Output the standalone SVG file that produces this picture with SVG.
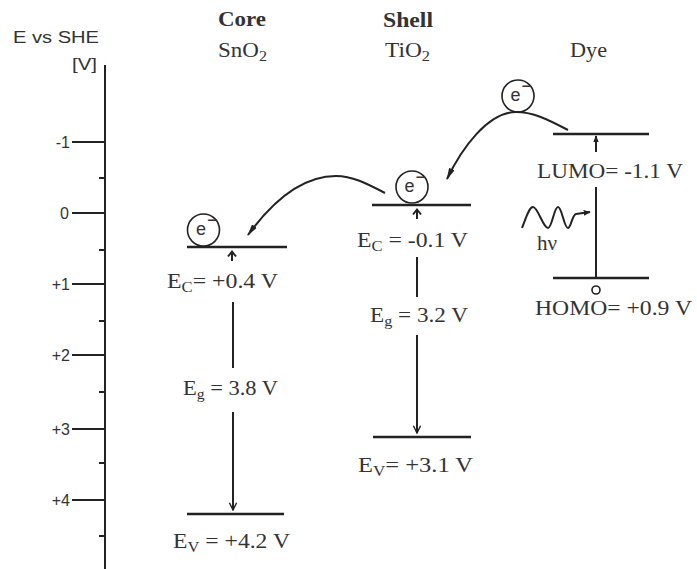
<svg xmlns="http://www.w3.org/2000/svg" width="697" height="569" viewBox="0 0 697 569">
<style>
.serif{font-family:"Liberation Serif","Times New Roman",serif;font-size:20px;fill:#333}
.bold{font-weight:bold}
.sans{font-family:"Liberation Sans",Arial,sans-serif;font-size:16px;fill:#333}
.lvl{stroke:#222;stroke-width:2.5;fill:none}
.ln{stroke:#222;stroke-width:2;fill:none}
.up{stroke:#222;stroke-width:2;fill:none;stroke-linejoin:miter}
.circ{stroke:#222;stroke-width:1.6;fill:#fff}
.el{font-family:"Liberation Sans",Arial,sans-serif;font-size:18px;fill:#333}
</style>
<defs>
<marker id="chevBig" viewBox="0 0 10 10" refX="9" refY="5" markerWidth="9" markerHeight="12" orient="auto" markerUnits="userSpaceOnUse">
<path d="M1,1 L9,5 L1,9" fill="none" stroke="#222" stroke-width="1.6"/>
</marker>
<marker id="fill" viewBox="0 0 12 6" refX="11" refY="3" markerWidth="12" markerHeight="6" orient="auto" markerUnits="userSpaceOnUse">
<path d="M0,0 L12,3 L0,6 Z" fill="#222"/>
</marker>
<marker id="small" viewBox="0 0 10 8" refX="9" refY="4" markerWidth="7" markerHeight="6" orient="auto" markerUnits="userSpaceOnUse">
<path d="M0,0 L10,4 L0,8 Z" fill="#222"/>
</marker>
</defs>

<g id="axis">
<text class="sans" x="13" y="43" textLength="86" lengthAdjust="spacingAndGlyphs">E vs SHE</text>
<text class="sans" x="72" y="70" textLength="25" lengthAdjust="spacingAndGlyphs">[V]</text>
<line class="ln" x1="105" y1="65" x2="105" y2="569"/>
<g class="ln">
<line x1="72" y1="142" x2="105" y2="142"/>
<line x1="72" y1="213" x2="105" y2="213"/>
<line x1="72" y1="284" x2="105" y2="284"/>
<line x1="72" y1="355" x2="105" y2="355"/>
<line x1="72" y1="429" x2="105" y2="429"/>
<line x1="72" y1="500" x2="105" y2="500"/>
<line x1="99" y1="178" x2="105" y2="178"/>
<line x1="99" y1="250" x2="105" y2="250"/>
<line x1="99" y1="321" x2="105" y2="321"/>
<line x1="99" y1="392" x2="105" y2="392"/>
<line x1="99" y1="463" x2="105" y2="463"/>
<line x1="99" y1="536" x2="105" y2="536"/>
</g>
<g class="sans" text-anchor="end">
<text x="70" y="148">-1</text>
<text x="69" y="219">0</text>
<text x="70" y="290">+1</text>
<text x="70" y="361">+2</text>
<text x="70" y="435">+3</text>
<text x="70" y="506">+4</text>
</g>
</g>

<g id="core">
<text class="serif bold" x="218" y="26" textLength="48" lengthAdjust="spacingAndGlyphs">Core</text>
<text class="serif" x="218" y="57" textLength="49" lengthAdjust="spacingAndGlyphs">SnO<tspan font-size="14" dy="4">2</tspan></text>
<line class="lvl" x1="187" y1="247" x2="287" y2="247"/>
<circle class="circ" cx="203.5" cy="230" r="16"/>
<text class="el" x="196" y="235">e</text>
<text class="el" font-size="11" x="207" y="226">−</text>
<path class="up" d="M232,261 V252 M228,256.5 L232,251.5 L236,256.5"/>
<text class="serif" x="167" y="288" textLength="111" lengthAdjust="spacingAndGlyphs">E<tspan font-size="14" dy="4">C</tspan><tspan dy="-4">= +0.4 V</tspan></text>
<line class="ln" x1="233" y1="302" x2="233" y2="368"/>
<text class="serif" x="183" y="395" textLength="95" lengthAdjust="spacingAndGlyphs">E<tspan font-size="14" dy="4">g</tspan><tspan dy="-4"> = 3.8 V</tspan></text>
<line class="ln" x1="233" y1="412" x2="233" y2="510" marker-end="url(#chevBig)"/>
<line class="lvl" x1="187" y1="514" x2="284" y2="514"/>
<text class="serif" x="173" y="548" textLength="117" lengthAdjust="spacingAndGlyphs">E<tspan font-size="14" dy="4">V</tspan><tspan dy="-4"> = +4.2 V</tspan></text>
</g>

<g id="shell">
<text class="serif bold" x="383" y="27" textLength="50" lengthAdjust="spacingAndGlyphs">Shell</text>
<text class="serif" x="385" y="57" textLength="45" lengthAdjust="spacingAndGlyphs">TiO<tspan font-size="14" dy="4">2</tspan></text>
<line class="lvl" x1="372" y1="205" x2="471" y2="205"/>
<circle class="circ" cx="412" cy="187" r="16"/>
<text class="el" x="404.5" y="192">e</text>
<text class="el" font-size="11" x="415.5" y="183">−</text>
<path class="up" d="M417,219 V210 M413,214.5 L417,209.5 L421,214.5"/>
<text class="serif" x="357" y="247" textLength="111" lengthAdjust="spacingAndGlyphs">E<tspan font-size="14" dy="4">C</tspan><tspan dy="-4"> = -0.1 V</tspan></text>
<line class="ln" x1="417" y1="257" x2="417" y2="297"/>
<text class="serif" x="370" y="322" textLength="98" lengthAdjust="spacingAndGlyphs">E<tspan font-size="14" dy="4">g</tspan><tspan dy="-4"> = 3.2 V</tspan></text>
<line class="ln" x1="417" y1="335" x2="417" y2="433" marker-end="url(#chevBig)"/>
<line class="lvl" x1="373" y1="437" x2="471" y2="437"/>
<text class="serif" x="358" y="472" textLength="115" lengthAdjust="spacingAndGlyphs">E<tspan font-size="14" dy="4">V</tspan><tspan dy="-4">= +3.1 V</tspan></text>
</g>

<g id="dye">
<text class="serif" x="570" y="57" textLength="37" lengthAdjust="spacingAndGlyphs">Dye</text>
<line class="lvl" x1="553" y1="134" x2="649" y2="134"/>
<line class="ln" stroke-width="1.5" x1="596" y1="152" x2="596" y2="136" marker-end="url(#small)"/>
<text class="serif" x="537" y="178" textLength="146" lengthAdjust="spacingAndGlyphs">LUMO= -1.1 V</text>
<line class="ln" x1="596" y1="187" x2="596" y2="278"/>
<path class="ln" stroke-width="1.6" d="M522,228 C526,218 529,207 533,207 C538,207 543,228 548,228 C552,228 554,207 558,207 C562,207 564,228 568,228 C571,228 572,215 576,214 L590,212" marker-end="url(#small)"/>
<text class="serif" font-size="17" x="537" y="250" textLength="20" lengthAdjust="spacingAndGlyphs">hν</text>
<line class="lvl" x1="553" y1="278" x2="649" y2="278"/>
<circle class="circ" stroke-width="1.3" cx="596" cy="290" r="4"/>
<text class="serif" x="535" y="315" textLength="157" lengthAdjust="spacingAndGlyphs">HOMO= +0.9 V</text>
<circle class="circ" cx="518" cy="96" r="16"/>
<text class="el" x="510.5" y="101">e</text>
<text class="el" font-size="11" x="521.5" y="92">−</text>
</g>

<g id="connectors">
<path class="ln" stroke-width="1.6" d="M568,130 C545,118 532,112 516,112 C488,112 462,148 447,179" marker-end="url(#fill)"/>
<path class="ln" stroke-width="1.6" d="M385,193 C366,183 352,176 336,176 C302,176 272,202 248,235" marker-end="url(#fill)"/>
</g>
</svg>
